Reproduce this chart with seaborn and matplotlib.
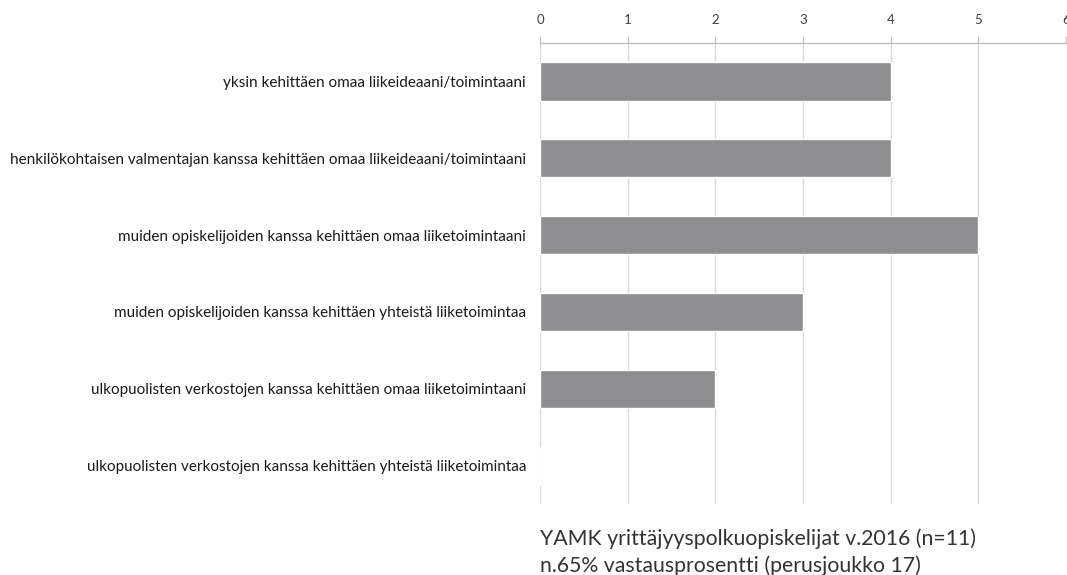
import matplotlib
matplotlib.use("Agg")
import matplotlib.pyplot as plt
import seaborn as sns
import pandas as pd

categories = [
    "yksin kehittäen omaa liikeideaani/toimintaani",
    "henkilökohtaisen valmentajan kanssa kehittäen omaa liikeideaani/toimintaani",
    "muiden opiskelijoiden kanssa kehittäen omaa liiketoimintaani",
    "muiden opiskelijoiden kanssa kehittäen yhteistä liiketoimintaa",
    "ulkopuolisten verkostojen kanssa kehittäen omaa liiketoimintaani",
    "ulkopuolisten verkostojen kanssa kehittäen yhteistä liiketoimintaa",
]
values = [4, 4, 5, 3, 2, 0]
ticks = [0, 1, 2, 3, 4, 5, 6]
caption = ["YAMK yrittäjyyspolkuopiskelijat v.2016 (n=11)",
           "n.65% vastausprosentti (perusjoukko 17)"]

sns.set_theme(style="white")
plt.rcParams['font.family'] = ['Lato', 'DejaVu Sans']

df = pd.DataFrame({"cat": categories, "val": values})

fig = plt.figure(figsize=(10.67, 5.75), dpi=100)
ax = fig.add_axes([540/1067, 1-504/575, 526/1067, (504-43)/575])

sns.barplot(data=df, y="cat", x="val", color="#8e8e90", width=0.5,
            saturation=1, ax=ax, orient="h", zorder=3)

ax.set_xlim(0, 6)
ax.set_xticks(ticks)
ax.set_xticklabels([str(t) for t in ticks], fontsize=9.5, color="#404040")
ax.xaxis.tick_top()
ax.tick_params(axis="x", which="both", length=5, width=0.8, color="#bfbfbf",
               pad=7, top=True, bottom=False, direction="out")
ax.tick_params(axis="y", length=0, pad=10, labelsize=11, labelcolor="#1a1a1a")
ax.set_xlabel("")
ax.set_ylabel("")
ax.grid(axis="x", color="#d9d9d9", linewidth=1, zorder=0)
ax.grid(axis="y", visible=False)
for s in ["right", "bottom", "left"]:
    ax.spines[s].set_visible(False)
ax.spines["top"].set_visible(True)
ax.spines["top"].set_color("#bfbfbf")
ax.spines["top"].set_linewidth(1)

fig.text(540/1067, 1-545/575, caption[0], fontsize=15.3, color="#333333",
         va="baseline", ha="left")
fig.text(540/1067, 1-572/575, caption[1], fontsize=15.3, color="#333333",
         va="baseline", ha="left")

fig.savefig("out.png", dpi=100)
